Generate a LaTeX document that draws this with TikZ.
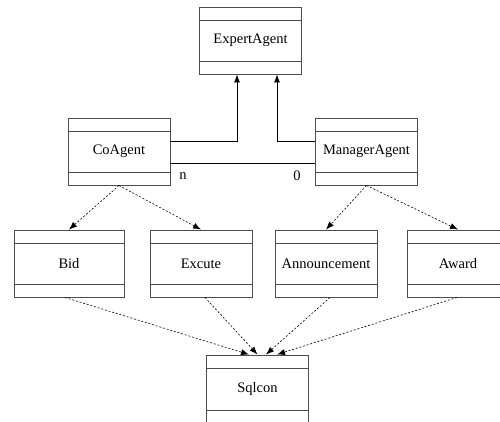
\documentclass[tikz,border=0pt]{standalone}
\usepackage{fontspec}
\setmainfont{Liberation Serif}
\usepackage{tikz}
\usetikzlibrary{arrows.meta, positioning, calc}

\begin{document}
\begin{tikzpicture}[
    x=1pt, y=-1pt,
    umlbox/.style={rectangle, draw=black!70, line width=0.9pt, minimum width=102pt, minimum height=67pt, inner sep=0pt, text centered, font=\fontsize{14.5}{17}\selectfont},
    divider/.style={draw=black!70, line width=0.9pt},
    inherit/.style={line width=0.8pt, -{Latex[length=8pt,width=6pt]}},
    depend/.style={line width=0.6pt, dash pattern=on 2pt off 1.8pt, -{Latex[length=8pt,width=6pt]}},
    lbl/.style={font=\fontsize{14.5}{17}\selectfont}
]

    \clip (0,0) rectangle (500,422);

    % classes
    \node[umlbox] (expert) at (250.5,40.5) {ExpertAgent};
    \node[umlbox] (coagent) at (119,151.5) {CoAgent};
    \node[umlbox] (manager) at (366.5,151.5) {ManagerAgent};
    \node[umlbox, minimum width=110pt] (bid) at (69,263.5) {Bid};
    \node[umlbox] (excute) at (201,263.5) {Excute};
    \node[umlbox] (announce) at (326,263.5) {Announcement};
    \node[umlbox] (award) at (458,263.5) {Award};
    \node[umlbox, minimum height=68pt] (sqlcon) at (257.5,389) {Sqlcon};

    % compartments
    \foreach \n in {expert,coagent,manager,bid,excute,announce,award,sqlcon} {
        \draw[divider] ($(\n.north west)+(0,13.5)$) -- ($(\n.north east)+(0,13.5)$);
        \draw[divider] ($(\n.south west)+(0,-13)$) -- ($(\n.south east)+(0,-13)$);
    }

    % generalisation
    \draw[inherit] ($(coagent.east)+(0,-10.5)$) -| ($(expert.south)+(-13.5,0)$);
    \draw[inherit] ($(manager.west)+(0,-10.5)$) -| ($(expert.south)+(26.5,0)$);

    % association
    \draw[line width=0.8pt] ($(coagent.east)+(0,11.5)$) -- ($(manager.west)+(0,11.5)$);
    \node[lbl] (mulN) at (183,176) {n};
    \node[lbl] (mulZero) at (297,176) {0};

    % dependencies
    \draw[depend] (coagent.south) -- (bid.north);
    \draw[depend] (coagent.south) -- (excute.north);
    \draw[depend] (manager.south) -- (announce.north);
    \draw[depend] (manager.south) -- (award.north);

    \draw[depend] ($(bid.south)+(-4,0)$) -- ($(sqlcon.north)+(-8.5,0)$);
    \draw[depend] ($(excute.south)+(4,0)$) -- (sqlcon.north);
    \draw[depend] ($(announce.south)+(4,0)$) -- ($(sqlcon.north)+(8.5,0)$);
    \draw[depend] ($(award.south)+(-1,0)$) -- ($(sqlcon.north)+(19.5,0)$);

\end{tikzpicture}
\end{document}
